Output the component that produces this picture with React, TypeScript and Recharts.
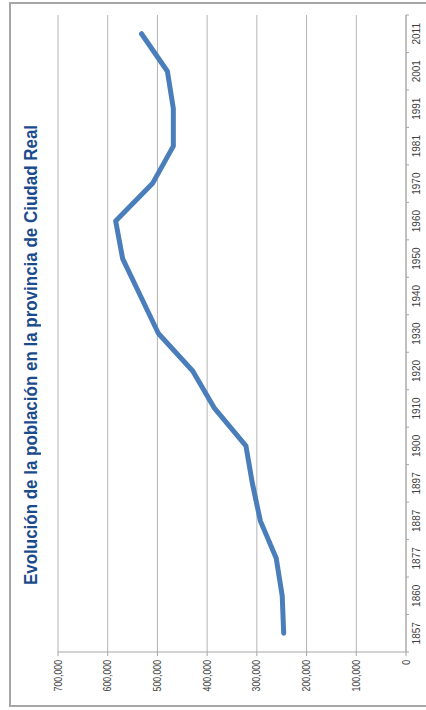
import { LineChart, Line, XAxis, YAxis, CartesianGrid } from "recharts";

// population of Ciudad Real per census year
const years = [
  "1857", "1860", "1877", "1887", "1897", "1900", "1910", "1920", "1930",
  "1940", "1950", "1960", "1970", "1981", "1991", "2001", "2011",
];
const population = [
  246000, 249000, 261000, 293000, 309000, 322000, 385000, 429000, 498000,
  534000, 570000, 584000, 510000, 468000, 468000, 480000, 532000,
];
const valueTicks = [0, 100000, 200000, 300000, 400000, 500000, 600000, 700000];
const title = "Evolución de la población en la provincia de Ciudad Real";

const data = years.map((year, i) => ({ year, value: population[i] }));

// the chart is drawn landscape and turned a quarter to the left
const CHART_W = 710;
const CHART_H = 426;
const MARGIN = { top: 58, right: 15, bottom: 0, left: 0 };
const Y_AXIS_W = 58;
const plotW = CHART_W - MARGIN.left - MARGIN.right - Y_AXIS_W;
const step = plotW / years.length;

const font = "'Liberation Sans Narrow', 'Arial Narrow', 'Liberation Sans', Arial, sans-serif";
const axisGray = "#a6a6a6";

function YearTick(props: any) {
  const { x, y, payload, index } = props;
  const last = index === years.length - 1;
  return (
    <g>
      <line x1={x - step / 2} x2={x - step / 2} y1={y} y2={y + 3} stroke={axisGray} />
      {last && <line x1={x + step / 2} x2={x + step / 2} y1={y} y2={y + 3} stroke={axisGray} />}
      <text x={x} y={y + 14} textAnchor="middle" fontSize={10} fill="#404040" fontFamily={font}>
        {payload.value}
      </text>
    </g>
  );
}

// narrow look of the value labels
function ValueTick(props: any) {
  const { x, y, payload } = props;
  return (
    <text
      transform={`translate(${x},${y}) scale(0.87,1)`}
      dy="0.355em"
      textAnchor="end"
      fontSize={10}
      fill="#404040"
      fontFamily={font}
    >
      {Number(payload.value).toLocaleString("en-US")}
    </text>
  );
}

export default function App() {
  return (
    <div style={{ position: "absolute", left: 0, top: 0, width: 426, height: 710, overflow: "hidden", background: "#fff" }}>
      <div
        style={{
          position: "absolute",
          left: 9,
          top: 2,
          width: 440,
          height: 705,
          border: `2px solid ${axisGray}`,
          boxSizing: "border-box",
        }}
      />
      <div
        style={{
          position: "absolute",
          left: 0,
          top: 0,
          width: CHART_W,
          height: CHART_H,
          transformOrigin: "0 0",
          transform: `translate(0px, ${CHART_W}px) rotate(-90deg)`,
        }}
      >
        <div
          style={{
            position: "absolute",
            left: 0,
            top: 21,
            width: CHART_W,
            textAlign: "center",
            fontFamily: font,
            fontWeight: "bold",
            fontSize: 19,
            lineHeight: "20px",
            color: "#1a4b8c",
            transform: "scaleX(0.893)",
            transformOrigin: "50% 50%",
          }}
        >
          {title}
        </div>
        <LineChart width={CHART_W} height={CHART_H} data={data} margin={MARGIN}>
          <CartesianGrid vertical={false} stroke="#b3b3b3" />
          <XAxis
            dataKey="year"
            interval={0}
            height={20}
            tickSize={0}
            tickMargin={0}
            padding={{ left: step / 2, right: step / 2 }}
            axisLine={{ stroke: axisGray }}
            tickLine={false}
            tick={<YearTick />}
          />
          <YAxis
            width={Y_AXIS_W}
            domain={[0, 700000]}
            ticks={valueTicks}
            tickSize={4}
            tickMargin={4}
            axisLine={{ stroke: axisGray }}
            tickLine={{ stroke: axisGray }}
            tick={<ValueTick />}
          />
          <Line
            type="linear"
            dataKey="value"
            stroke="#4a7ebb"
            strokeWidth={5}
            strokeLinecap="round"
            strokeLinejoin="round"
            dot={false}
            isAnimationActive={false}
          />
        </LineChart>
      </div>
    </div>
  );
}
